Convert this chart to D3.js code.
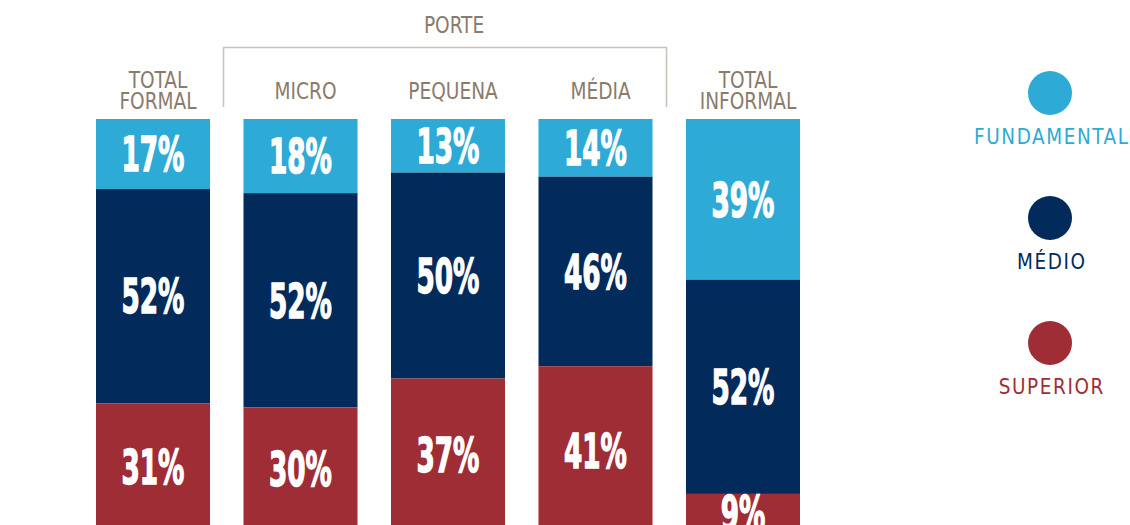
<!DOCTYPE html>
<html>
<head>
<meta charset="utf-8">
<script src="https://cdn.jsdelivr.net/npm/d3@7"></script>
<style>
  html, body { margin: 0; padding: 0; background: #fff; }
  svg { display: block; }
</style>
</head>
<body>
<svg id="chart" width="1130" height="525"></svg>
<script>
// ---- data ----
const categories = ["TOTAL FORMAL", "MICRO", "PEQUENA", "MÉDIA", "TOTAL INFORMAL"];
const categoryLines = [["TOTAL", "FORMAL"], ["MICRO"], ["PEQUENA"], ["MÉDIA"], ["TOTAL", "INFORMAL"]];
const seriesNames = ["FUNDAMENTAL", "MÉDIO", "SUPERIOR"];
const fundamental = [17, 18, 13, 14, 39];
const medio = [52, 52, 50, 46, 52];
const superior = [31, 30, 37, 41, 9];
const groupTitle = "PORTE";
const groupMembers = ["MICRO", "PEQUENA", "MÉDIA"];

// ---- styles ----
const colors = ["#2eaad6", "#022b5c", "#9f2d35"];
const labelGray = "#8b7b6b";
const bracketGray = "#cbc2ba";
const narrow = "'Liberation Sans Narrow', 'Arial Narrow', 'DejaVu Sans Condensed', 'Liberation Sans', sans-serif";

const svg = d3.select("#chart");

function measure(txt, size, weight, spacing) {
  const t = svg.append("text").attr("font-family", narrow).attr("font-weight", weight || "normal")
    .attr("font-size", size).attr("letter-spacing", spacing || 0).text(txt);
  const w = t.node().getComputedTextLength();
  t.remove();
  return w;
}

const rows = categories.map((c, i) => ({
  cat: c, FUNDAMENTAL: fundamental[i], "MÉDIO": medio[i], SUPERIOR: superior[i]
}));
const stack = d3.stack().keys(seriesNames)(rows);

const x = d3.scaleBand().domain(categories).range([96, 800]).paddingInner(0.227).paddingOuter(0);
const y = d3.scaleLinear().domain([0, 100]).range([119, 531]);
const color = d3.scaleOrdinal().domain(seriesNames).range(colors);

// bars
const layers = svg.append("g").selectAll("g").data(stack).join("g")
  .attr("fill", d => color(d.key));
layers.selectAll("rect").data(d => d).join("rect")
  .attr("x", d => x(d.data.cat))
  .attr("y", d => y(d[0]))
  .attr("width", x.bandwidth())
  .attr("height", d => y(d[1]) - y(d[0]));

// value labels (heavy condensed)
const fs = 48;
const sx = (1.31 * fs) / measure("00%", fs, "bold");
const cap = 0.72 * fs;

const labels = svg.append("g");
stack.forEach(layer => {
  layer.forEach(d => {
    const cx = x(d.data.cat) + x.bandwidth() / 2;
    const cy = (y(d[0]) + y(d[1])) / 2;
    labels.append("text")
      .attr("transform", `translate(${cx},${cy + cap / 2}) scale(${sx},1)`)
      .attr("text-anchor", "middle")
      .attr("font-family", narrow)
      .attr("font-weight", "bold")
      .attr("font-size", fs)
      .attr("fill", "#fff")
      .attr("stroke", "#fff")
      .attr("stroke-width", 1.4)
      .text(d.data[layer.key] + "%");
  });
});

// category labels (horizontally fitted to a narrow face)
const cfs = 23;
const csx = Math.min(1, 62 / measure("MICRO", cfs));
const cl = svg.append("g").attr("font-family", narrow).attr("font-size", cfs).attr("fill", labelGray)
  .attr("text-anchor", "middle");
categories.forEach((c, i) => {
  const lines = categoryLines[i];
  const cx = x(c) + x.bandwidth() / 2 + 5;
  lines.forEach((ln, j) => {
    const by = (lines.length === 1 ? 99 : 88) + j * 20.5;
    cl.append("text")
      .attr("transform", `translate(${cx},${by}) scale(${csx},1)`)
      .text(ln);
  });
});

// group bracket
const bx0 = x(groupMembers[0]) - 20;
const bx1 = x(groupMembers[groupMembers.length - 1]) + x.bandwidth() + 14;
svg.append("path")
  .attr("d", `M${bx0},107 V47.5 H${bx1} V107`)
  .attr("fill", "none").attr("stroke", bracketGray).attr("stroke-width", 1.6);
svg.append("text")
  .attr("transform", `translate(${x(groupMembers[1]) + x.bandwidth() / 2 + 6},33) scale(${csx},1)`)
  .attr("text-anchor", "middle").attr("font-family", narrow).attr("font-size", cfs)
  .attr("fill", labelGray).text(groupTitle);

// legend
const lfs = 20.5;
const nat = measure("FUNDAMENTAL", lfs);
const lsp = Math.max(0, (154 - nat) / 10);
const lsx = nat > 154 ? 154 / nat : 1;
const ly = d3.scalePoint().domain(seriesNames).range([93, 343]);
const lg = svg.append("g");
seriesNames.forEach(s => {
  lg.append("circle").attr("cx", 1050).attr("cy", ly(s)).attr("r", 22).attr("fill", color(s));
  lg.append("text")
    .attr("transform", `translate(${1051 + lsp / 2},${ly(s) + 51}) scale(${lsx},1)`)
    .attr("text-anchor", "middle")
    .attr("font-family", narrow).attr("font-size", lfs)
    .attr("letter-spacing", lsp)
    .attr("fill", color(s))
    .text(s);
});
</script>
</body>
</html>
